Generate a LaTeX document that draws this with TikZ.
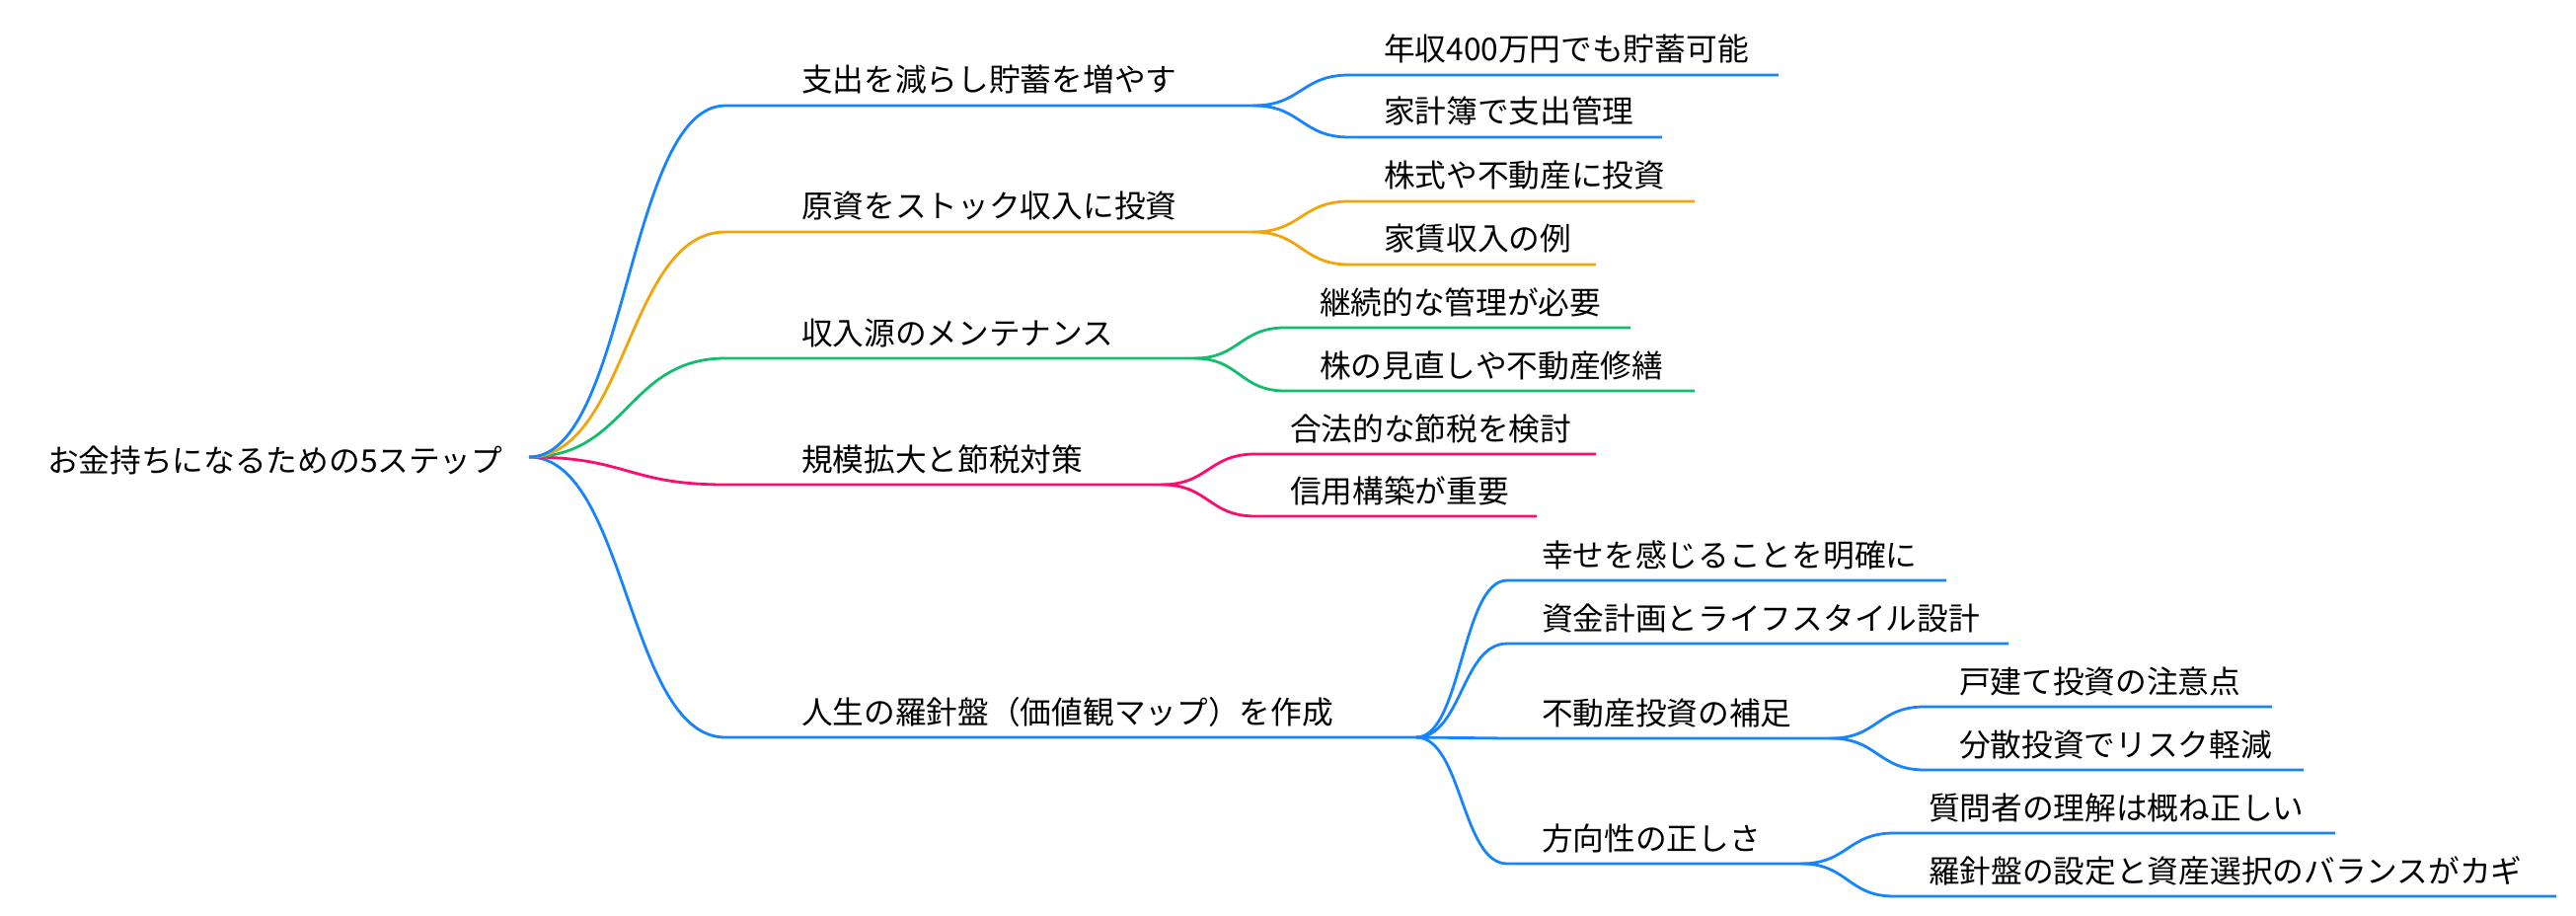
\documentclass[tikz,border=0pt]{standalone}
\usepackage{fontspec}
\setmainfont{Noto Sans CJK JP}
\usetikzlibrary{calc}
\definecolor{mmblue}{RGB}{22,132,255}
\definecolor{mmorange}{RGB}{242,165,10}
\definecolor{mmgreen}{RGB}{18,190,110}
\definecolor{mmpink}{RGB}{255,10,110}
\tikzset{
  lbl/.style={anchor=base west, inner sep=0pt, outer sep=0pt, text=black,
    font=\fontsize{31.7}{38}\selectfont},
  br/.style={line width=2.8pt, draw=#1}
}
\newcommand\mmlink[4]{\draw[br=#1] let \p1=(#2), \p2=(#3) in (#2) .. controls ({(\x1+\x2)/2},\y1) and ({(\x1+\x2)/2},\y2) .. (#3) -- (#4);}
\begin{document}
\begin{tikzpicture}[x=1pt,y=-1pt]
\useasboundingbox[fill=white] (0,0) rectangle (2610,928);
% root
\node[lbl] (root) at (48,478) {お金持ちになるための5ステップ};
\coordinate (R) at (536,463);
% level 1 coordinates
\coordinate (n1s) at (735,107);  \coordinate (n1e) at (1270,107);
\coordinate (n2s) at (735,235);  \coordinate (n2e) at (1270,235);
\coordinate (n3s) at (735,363);  \coordinate (n3e) at (1210,363);
\coordinate (n4s) at (735,491);  \coordinate (n4e) at (1177,491);
\coordinate (n5s) at (735,747);  \coordinate (n5e) at (1435,747);
\node[lbl] (n1) at (812,93) {支出を減らし貯蓄を増やす};
\node[lbl] (n2) at (812,221) {原資をストック収入に投資};
\node[lbl] (n3) at (812,349) {収入源のメンテナンス};
\node[lbl] (n4) at (812,477) {規模拡大と節税対策};
\node[lbl] (n5) at (812,733) {人生の羅針盤（価値観マップ）を作成};
% level 2
\coordinate (a1s) at (1367,76);  \coordinate (a1e) at (1802,76);
\coordinate (a2s) at (1367,139); \coordinate (a2e) at (1684,139);
\coordinate (b1s) at (1367,204); \coordinate (b1e) at (1717,204);
\coordinate (b2s) at (1367,268); \coordinate (b2e) at (1617,268);
\coordinate (c1s) at (1302,332); \coordinate (c1e) at (1652,332);
\coordinate (c2s) at (1302,396); \coordinate (c2e) at (1717,396);
\coordinate (d1s) at (1272,460); \coordinate (d1e) at (1617,460);
\coordinate (d2s) at (1272,523); \coordinate (d2e) at (1557,523);
\coordinate (e1s) at (1527,588); \coordinate (e1e) at (1972,588);
\coordinate (e2s) at (1527,652); \coordinate (e2e) at (2035,652);
\coordinate (e3s) at (1527,748); \coordinate (e3e) at (1855,748);
\coordinate (e4s) at (1527,875); \coordinate (e4e) at (1825,875);
\node[lbl] (a1) at (1402,62) {年収400万円でも貯蓄可能};
\node[lbl] (a2) at (1402,125) {家計簿で支出管理};
\node[lbl] (b1) at (1402,190) {株式や不動産に投資};
\node[lbl] (b2) at (1402,254) {家賃収入の例};
\node[lbl] (c1) at (1337,318) {継続的な管理が必要};
\node[lbl] (c2) at (1337,382) {株の見直しや不動産修繕};
\node[lbl] (d1) at (1307,446) {合法的な節税を検討};
\node[lbl] (d2) at (1307,509) {信用構築が重要};
\node[lbl] (e1) at (1562,574) {幸せを感じることを明確に};
\node[lbl] (e2) at (1562,638) {資金計画とライフスタイル設計};
\node[lbl] (e3) at (1562,734) {不動産投資の補足};
\node[lbl] (e4) at (1562,861) {方向性の正しさ};
% level 3
\coordinate (f1s) at (1950,716); \coordinate (f1e) at (2302,716);
\coordinate (f2s) at (1950,780); \coordinate (f2e) at (2334,780);
\coordinate (g1s) at (1919,844); \coordinate (g1e) at (2366,844);
\coordinate (g2s) at (1919,908); \coordinate (g2e) at (2590,908);
\node[lbl] (f1) at (1985,702) {戸建て投資の注意点};
\node[lbl] (f2) at (1985,766) {分散投資でリスク軽減};
\node[lbl] (g1) at (1954,830) {質問者の理解は概ね正しい};
\node[lbl] (g2) at (1954,894) {羅針盤の設定と資産選択のバランスがカギ};
% connectors
\mmlink{mmblue}{R}{n5s}{n5e}
\mmlink{mmpink}{R}{n4s}{n4e}
\mmlink{mmgreen}{R}{n3s}{n3e}
\mmlink{mmorange}{R}{n2s}{n2e}
\mmlink{mmblue}{R}{n1s}{n1e}
\mmlink{mmblue}{n1e}{a1s}{a1e}
\mmlink{mmblue}{n1e}{a2s}{a2e}
\mmlink{mmorange}{n2e}{b1s}{b1e}
\mmlink{mmorange}{n2e}{b2s}{b2e}
\mmlink{mmgreen}{n3e}{c1s}{c1e}
\mmlink{mmgreen}{n3e}{c2s}{c2e}
\mmlink{mmpink}{n4e}{d1s}{d1e}
\mmlink{mmpink}{n4e}{d2s}{d2e}
\mmlink{mmblue}{n5e}{e1s}{e1e}
\mmlink{mmblue}{n5e}{e2s}{e2e}
\mmlink{mmblue}{n5e}{e3s}{e3e}
\mmlink{mmblue}{n5e}{e4s}{e4e}
\mmlink{mmblue}{e3e}{f1s}{f1e}
\mmlink{mmblue}{e3e}{f2s}{f2e}
\mmlink{mmblue}{e4e}{g1s}{g1e}
\mmlink{mmblue}{e4e}{g2s}{g2e}
\end{tikzpicture}
\end{document}
